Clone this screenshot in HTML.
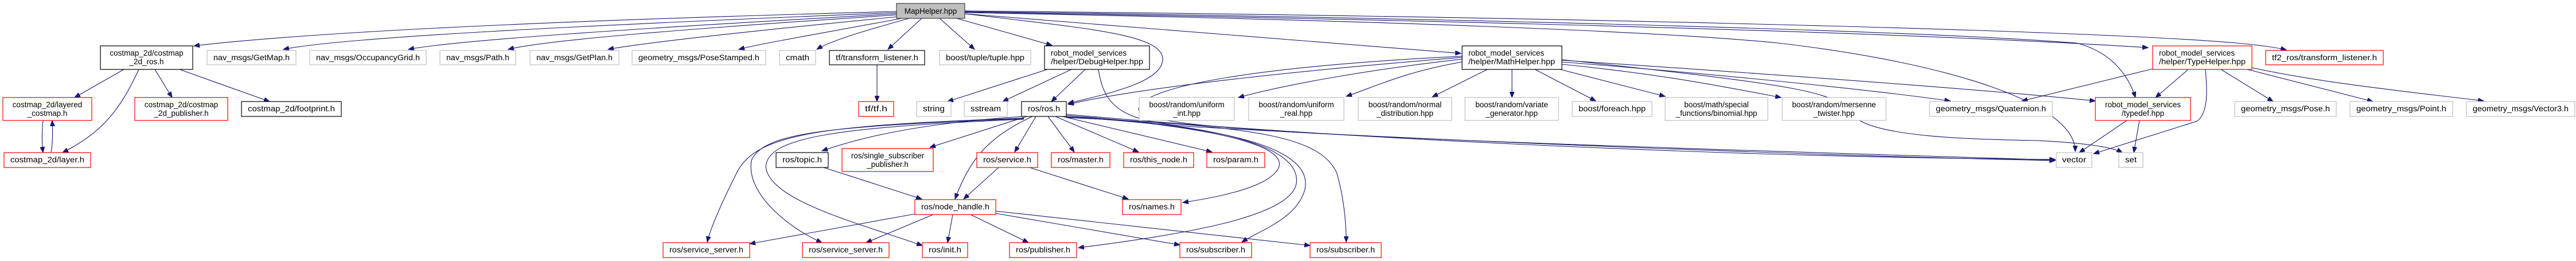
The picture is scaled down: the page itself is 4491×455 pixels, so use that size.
<!DOCTYPE html>
<html><head><meta charset="utf-8"><style>
html,body{margin:0;padding:0;background:#fff;}
svg{display:block;}
text{font-family:"Liberation Sans",sans-serif;font-size:13.5px;fill:#000;}
.g{fill:#fff;stroke:#bfbfbf;stroke-width:1.2}
.b{fill:#fff;stroke:#000;stroke-width:1.2}
.r{fill:#fff;stroke:#ff0000;stroke-width:1.2}
.e{fill:none;stroke:#191970;stroke-width:1.1}
</style></head><body>
<svg width="4491" height="455" viewBox="0 0 4491 455" xmlns="http://www.w3.org/2000/svg">
<defs><marker id="a" markerUnits="userSpaceOnUse" markerWidth="11" markerHeight="8" refX="10" refY="4" orient="auto"><path d="M0,0 L10,4 L0,8 z" fill="#191970" stroke="#191970"/></marker></defs>
<g marker-end="url(#a)" class="e">
<!-- MapHelper edges -->
<path d="M1563,20 C1000,35 550,55 338,80"/>
<path d="M1563,22 C1000,45 600,65 494,86"/>
<path d="M1563,24 C1100,50 800,70 712,86"/>
<path d="M1563,26 C1200,50 950,70 886,86"/>
<path d="M1566,29 C1300,55 1120,75 1060,86"/>
<path d="M1572,32 C1450,55 1330,75 1288,86"/>
<path d="M1585,32 C1520,50 1450,70 1424,86"/>
<path d="M1607,32 L1548,86"/>
<path d="M1638,32 L1699,86"/>
<path d="M1668,32 L1834,79"/>
<path d="M1682,24 C1900,50 2030,60 2027,105 C2024,140 1950,160 1862,180"/>
<path d="M1682,24 C2000,50 2300,75 2547,93"/>
<path d="M1682,22 C2400,35 2900,55 3100,75 C3400,110 3618,180 3618,264"/>
<path d="M1682,20 C2400,30 3300,50 3620,75 C3680,90 3710,130 3723,170"/>
<path d="M1682,21 C2500,35 3300,55 3745,83"/>
<path d="M1682,19 C2600,28 3600,50 3900,75 C3940,79 3965,82 3986,87"/>
<!-- costmap -->
<path d="M216,121 L130,170"/>
<path d="M242,121 C210,190 180,230 109,266"/>
<path d="M270,121 L300,170"/>
<path d="M313,121 L470,177"/>
<path d="M75,210 C73,230 73,250 75,266"/>
<path d="M89,266 C92,250 92,230 91,210"/>
<path d="M1529,113 L1529,177"/>
<!-- DebugHelper -->
<path d="M1826,121 L1652,177"/>
<path d="M1868,121 L1748,177"/>
<path d="M1892,121 L1833,177"/>
<path d="M1915,121 C1925,190 1960,215 2100,222 C2600,250 3200,272 3583,280"/>
<!-- MathHelper -->
<path d="M2549,103 C2400,120 2250,145 2159,170"/>
<path d="M2549,108 C2450,125 2400,150 2347,168"/>
<path d="M2593,121 L2497,169"/>
<path d="M2636,121 L2636,170"/>
<path d="M2676,121 L2782,176"/>
<path d="M2720,121 L2903,168"/>
<path d="M2723,112 C2900,130 3000,150 3105,170"/>
<path d="M2723,108 C3000,130 3250,155 3400,176"/>
<path d="M2723,105 C3100,130 3450,155 3653,176"/>
<path d="M2723,104 C3150,150 3200,160 3230,200 C3260,240 3450,243 3550,245 C3620,248 3680,255 3700,266"/>
<path d="M2549,100 C2300,120 2000,150 1862,182"/>
<path d="M2549,98 C2200,115 1990,150 1985,190 C1985,225 2300,240 3583,279"/>
<!-- typedef / TypeHelper -->
<path d="M3708,210 L3625,266"/>
<path d="M3730,210 L3720,266"/>
<path d="M3815,121 L3758,170"/>
<path d="M3753,120 L3525,176"/>
<path d="M3872,121 L3963,177"/>
<path d="M3918,121 L4137,177"/>
<path d="M3926,118 C4050,145 4200,160 4330,176"/>
<path d="M3845,121 C3848,160 3850,195 3831,211 L3650,268"/>
<!-- ros.h -->
<path d="M1785,203 C1600,215 1500,240 1433,263"/>
<path d="M1790,203 L1621,257"/>
<path d="M1806,203 L1769,265"/>
<path d="M1827,203 L1873,265"/>
<path d="M1840,203 L1985,265"/>
<path d="M1852,203 L2113,265"/>
<path d="M1800,203 C1720,240 1690,280 1665,347"/>
<path d="M1859,201 C2100,220 2240,250 2230,290 C2220,320 2150,340 2062,353"/>
<path d="M1785,206 C1450,218 1320,230 1285,300 C1255,360 1238,400 1233,422"/>
<path d="M1785,207 C1450,220 1330,230 1310,280 C1300,340 1380,400 1433,423"/>
<path d="M1785,208 C1450,222 1340,240 1335,290 C1340,350 1500,390 1608,428"/>
<path d="M1859,203 C2100,215 2270,250 2260,320 C2250,380 2050,410 1880,432"/>
<path d="M1859,204 C2150,220 2290,260 2275,330 C2262,380 2200,400 2165,422"/>
<path d="M1859,205 C2200,220 2300,240 2330,300 C2345,350 2347,400 2347,422"/>
<path d="M1859,199 C2300,240 3000,274 3583,278"/>
<!-- topic / service -->
<path d="M1436,292 L1607,347"/>
<path d="M1741,292 L1680,347"/>
<path d="M1795,292 L1967,347"/>
<!-- node_handle -->
<path d="M1595,373 L1307,425"/>
<path d="M1627,374 L1510,423"/>
<path d="M1661,374 L1652,423"/>
<path d="M1692,374 L1793,423"/>
<path d="M1736,372 L2057,427"/>
<path d="M1736,368 L2284,428"/>
</g>
<!-- nodes -->
<rect x="1563" y="6" width="119" height="26" fill="#bfbfbf" stroke="#404040" stroke-width="1.2"/><text x="1622.5" y="24" text-anchor="middle">MapHelper.hpp</text>
<rect class="b" x="175" y="80" width="161" height="41"/><text x="255.5" y="97" text-anchor="middle">costmap_2d/costmap</text><text x="255.5" y="112" text-anchor="middle">_2d_ros.h</text>
<rect class="g" x="361" y="88" width="155" height="25"/><text x="438.5" y="105" text-anchor="middle" textLength="133" lengthAdjust="spacingAndGlyphs">nav_msgs/GetMap.h</text>
<rect class="g" x="540" y="88" width="203" height="25"/><text x="641.5" y="105" text-anchor="middle" textLength="181" lengthAdjust="spacingAndGlyphs">nav_msgs/OccupancyGrid.h</text>
<rect class="g" x="767" y="88" width="132" height="25"/><text x="833" y="105" text-anchor="middle" textLength="110" lengthAdjust="spacingAndGlyphs">nav_msgs/Path.h</text>
<rect class="g" x="924" y="88" width="155" height="25"/><text x="1001.5" y="105" text-anchor="middle" textLength="133" lengthAdjust="spacingAndGlyphs">nav_msgs/GetPlan.h</text>
<rect class="g" x="1102" y="88" width="233" height="25"/><text x="1218.5" y="105" text-anchor="middle" textLength="211" lengthAdjust="spacingAndGlyphs">geometry_msgs/PoseStamped.h</text>
<rect class="g" x="1359" y="88" width="63" height="25"/><text x="1390.5" y="105" text-anchor="middle" textLength="41" lengthAdjust="spacingAndGlyphs">cmath</text>
<rect class="b" x="1446" y="88" width="166" height="25"/><text x="1529" y="105" text-anchor="middle" textLength="144" lengthAdjust="spacingAndGlyphs">tf/transform_listener.h</text>
<rect class="g" x="1638" y="88" width="159" height="25"/><text x="1717.5" y="105" text-anchor="middle" textLength="137" lengthAdjust="spacingAndGlyphs">boost/tuple/tuple.hpp</text>
<rect class="b" x="1821" y="80" width="183" height="41"/><text x="1832" y="97">robot_model_services</text><text x="1832" y="112" textLength="161" lengthAdjust="spacingAndGlyphs">/helper/DebugHelper.hpp</text>
<rect class="b" x="2549" y="80" width="174" height="41"/><text x="2560" y="97">robot_model_services</text><text x="2560" y="112" textLength="151" lengthAdjust="spacingAndGlyphs">/helper/MathHelper.hpp</text>
<rect class="r" x="3753" y="80" width="173" height="41"/><text x="3764" y="97">robot_model_services</text><text x="3764" y="112" textLength="151" lengthAdjust="spacingAndGlyphs">/helper/TypeHelper.hpp</text>
<rect class="r" x="3950" y="88" width="205" height="25"/><text x="4052.5" y="105" text-anchor="middle" textLength="183" lengthAdjust="spacingAndGlyphs">tf2_ros/transform_listener.h</text>
<rect class="r" x="5" y="170" width="155" height="40"/><text x="82.5" y="187" text-anchor="middle">costmap_2d/layered</text><text x="82.5" y="202" text-anchor="middle">_costmap.h</text>
<rect class="r" x="235" y="170" width="162" height="40"/><text x="316" y="187" text-anchor="middle">costmap_2d/costmap</text><text x="316" y="202" text-anchor="middle">_2d_publisher.h</text>
<rect class="b" x="421" y="177" width="174" height="26"/><text x="508" y="194" text-anchor="middle" textLength="152" lengthAdjust="spacingAndGlyphs">costmap_2d/footprint.h</text>
<rect class="r" x="1497" y="177" width="61" height="26"/><text x="1527.5" y="194" text-anchor="middle" textLength="39" lengthAdjust="spacingAndGlyphs">tf/tf.h</text>
<rect class="g" x="1598" y="177" width="60" height="26"/><text x="1628" y="194" text-anchor="middle" textLength="38" lengthAdjust="spacingAndGlyphs">string</text>
<rect class="g" x="1681" y="177" width="75" height="26"/><text x="1718.5" y="194" text-anchor="middle" textLength="53" lengthAdjust="spacingAndGlyphs">sstream</text>
<rect class="b" x="1781" y="177" width="78" height="26"/><text x="1820" y="194" text-anchor="middle" textLength="56" lengthAdjust="spacingAndGlyphs">ros/ros.h</text>
<rect class="g" x="1986" y="170" width="166" height="40"/><text x="2069" y="187" text-anchor="middle">boost/random/uniform</text><text x="2069" y="202" text-anchor="middle">_int.hpp</text>
<rect class="g" x="2177" y="170" width="166" height="40"/><text x="2260" y="187" text-anchor="middle">boost/random/uniform</text><text x="2260" y="202" text-anchor="middle">_real.hpp</text>
<rect class="g" x="2368" y="170" width="163" height="40"/><text x="2449.5" y="187" text-anchor="middle">boost/random/normal</text><text x="2449.5" y="202" text-anchor="middle">_distribution.hpp</text>
<rect class="g" x="2554" y="170" width="163" height="40"/><text x="2635.5" y="187" text-anchor="middle">boost/random/variate</text><text x="2635.5" y="202" text-anchor="middle">_generator.hpp</text>
<rect class="g" x="2741" y="177" width="139" height="26"/><text x="2810.5" y="194" text-anchor="middle" textLength="117" lengthAdjust="spacingAndGlyphs">boost/foreach.hpp</text>
<rect class="g" x="2903" y="170" width="179" height="40"/><text x="2992.5" y="187" text-anchor="middle">boost/math/special</text><text x="2992.5" y="202" text-anchor="middle">_functions/binomial.hpp</text>
<rect class="g" x="3107" y="170" width="181" height="40"/><text x="3197.5" y="187" text-anchor="middle">boost/random/mersenne</text><text x="3197.5" y="202" text-anchor="middle">_twister.hpp</text>
<rect class="g" x="3364" y="177" width="214" height="26"/><text x="3471" y="194" text-anchor="middle" textLength="192" lengthAdjust="spacingAndGlyphs">geometry_msgs/Quaternion.h</text>
<rect class="r" x="3653" y="170" width="166" height="40"/><text x="3736" y="187" text-anchor="middle">robot_model_services</text><text x="3736" y="202" text-anchor="middle">/typedef.hpp</text>
<rect class="g" x="3896" y="177" width="177" height="26"/><text x="3984.5" y="194" text-anchor="middle" textLength="155" lengthAdjust="spacingAndGlyphs">geometry_msgs/Pose.h</text>
<rect class="g" x="4097" y="177" width="179" height="26"/><text x="4186.5" y="194" text-anchor="middle" textLength="157" lengthAdjust="spacingAndGlyphs">geometry_msgs/Point.h</text>
<rect class="g" x="4300" y="177" width="189" height="26"/><text x="4394.5" y="194" text-anchor="middle" textLength="167" lengthAdjust="spacingAndGlyphs">geometry_msgs/Vector3.h</text>
<rect class="r" x="7" y="266" width="151" height="26"/><text x="82.5" y="283" text-anchor="middle" textLength="129" lengthAdjust="spacingAndGlyphs">costmap_2d/layer.h</text>
<rect class="b" x="1353" y="266" width="91" height="26"/><text x="1398.5" y="283" text-anchor="middle" textLength="69" lengthAdjust="spacingAndGlyphs">ros/topic.h</text>
<rect class="r" x="1468" y="259" width="159" height="40"/><text x="1547.5" y="276" text-anchor="middle">ros/single_subscriber</text><text x="1547.5" y="291" text-anchor="middle">_publisher.h</text>
<rect class="r" x="1703" y="266" width="106" height="26"/><text x="1756" y="283" text-anchor="middle" textLength="84" lengthAdjust="spacingAndGlyphs">ros/service.h</text>
<rect class="r" x="1833" y="266" width="102" height="26"/><text x="1884" y="283" text-anchor="middle" textLength="80" lengthAdjust="spacingAndGlyphs">ros/master.h</text>
<rect class="r" x="1959" y="266" width="122" height="26"/><text x="2020" y="283" text-anchor="middle" textLength="100" lengthAdjust="spacingAndGlyphs">ros/this_node.h</text>
<rect class="r" x="2104" y="266" width="101" height="26"/><text x="2154.5" y="283" text-anchor="middle" textLength="79" lengthAdjust="spacingAndGlyphs">ros/param.h</text>
<rect class="g" x="3585" y="266" width="62" height="26"/><text x="3616" y="283" text-anchor="middle" textLength="42" lengthAdjust="spacingAndGlyphs">vector</text>
<rect class="g" x="3694" y="266" width="42" height="26"/><text x="3715" y="283" text-anchor="middle" textLength="20" lengthAdjust="spacingAndGlyphs">set</text>
<rect class="r" x="1595" y="348" width="141" height="26"/><text x="1665.5" y="365" text-anchor="middle" textLength="119" lengthAdjust="spacingAndGlyphs">ros/node_handle.h</text>
<rect class="r" x="1957" y="348" width="102" height="26"/><text x="2008" y="365" text-anchor="middle" textLength="80" lengthAdjust="spacingAndGlyphs">ros/names.h</text>
<rect class="r" x="1156" y="423" width="151" height="26"/><text x="1231.5" y="440" text-anchor="middle" textLength="129" lengthAdjust="spacingAndGlyphs">ros/service_server.h</text>
<rect class="r" x="1399" y="423" width="151" height="26"/><text x="1474.5" y="440" text-anchor="middle" textLength="129" lengthAdjust="spacingAndGlyphs">ros/service_server.h</text>
<rect class="r" x="1608" y="423" width="79" height="26"/><text x="1647.5" y="440" text-anchor="middle" textLength="57" lengthAdjust="spacingAndGlyphs">ros/init.h</text>
<rect class="r" x="1760" y="423" width="117" height="26"/><text x="1818.5" y="440" text-anchor="middle" textLength="95" lengthAdjust="spacingAndGlyphs">ros/publisher.h</text>
<rect class="r" x="2057" y="423" width="125" height="26"/><text x="2119.5" y="440" text-anchor="middle" textLength="103" lengthAdjust="spacingAndGlyphs">ros/subscriber.h</text>
<rect class="r" x="2284" y="423" width="124" height="26"/><text x="2346" y="440" text-anchor="middle" textLength="102" lengthAdjust="spacingAndGlyphs">ros/subscriber.h</text>
</svg>
</body></html>
